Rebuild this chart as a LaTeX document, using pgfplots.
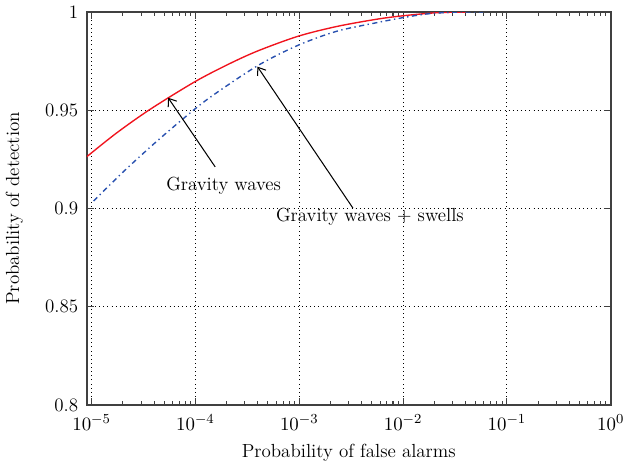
\documentclass[border=0pt]{standalone}
\usepackage{pgfplots}
\pgfplotsset{compat=1.18}
\usetikzlibrary{arrows.meta}
\definecolor{myred}{RGB}{240,20,30}
\definecolor{myblue}{RGB}{40,80,175}
\newcommand{\ff}{\fontsize{11}{13}\selectfont}
\begin{document}
\begin{tikzpicture}
\begin{axis}[
  scale only axis, width=304pt, height=228pt,
  xmode=log, xmin=9e-6, xmax=1, ymin=0.8, ymax=1,
  xtick={1e-5,1e-4,1e-3,1e-2,1e-1,1},
  ytick={0.8,0.85,0.9,0.95,1},
  yticklabels={0.8,0.85,0.9,0.95,1},
  grid=major,
  major grid style={dotted, black, line width=0.6pt},
  axis line style={line width=0.9pt, black!75},
  tick style={black!75, line width=0.6pt},
  major tick length=4pt, minor tick length=2.5pt,
  tick label style={font=\ff},
  label style={font=\ff},
  xticklabel style={yshift=-2pt},
  yticklabel style={xshift=-1.5pt},
  xlabel={Probability of false alarms},
  ylabel={Probability of detection},
  xlabel style={yshift=-1pt},
  ylabel style={yshift=6pt},
]
\addplot[myred, line width=0.8pt, smooth] coordinates {
(8.95e-6,0.92628) (1.734e-5,0.93837) (3.67e-5,0.95051) (9.89e-5,0.96454)
(2.05e-4,0.97327) (3.96e-4,0.98015) (9.77e-4,0.98770) (2.31e-3,0.99268)
(5.58e-3,0.99635) (1.01e-2,0.99814) (2.09e-2,0.99964) (4.06e-2,1.0)
};
\addplot[myblue, line width=0.8pt, dash dot, smooth] coordinates {
(1.045e-5,0.90383) (2.02e-5,0.91867) (3.92e-5,0.93260) (7.59e-5,0.94561)
(1.376e-4,0.95648) (3.96e-4,0.97265) (9.77e-4,0.98311) (2.31e-3,0.99026)
(5.58e-3,0.9946) (1.01e-2,0.9972) (1.68e-2,0.9990) (3.04e-2,0.99995) (5.89e-2,1.0)
};
\draw[-{Straight Barb[length=4pt,width=6pt]}, line width=0.6pt] (axis cs:1.55e-4,0.9212) -- (axis cs:5.46e-5,0.9564);
\draw[-{Straight Barb[length=4pt,width=6pt]}, line width=0.6pt] (axis cs:3.29e-3,0.9002) -- (axis cs:3.96e-4,0.9722);
\node[font=\ff] at (axis cs:1.87e-4,0.9115) {Gravity waves};
\node[font=\ff] at (axis cs:4.8e-3,0.8957) {Gravity waves + swells};
\end{axis}
\end{tikzpicture}
\end{document}
